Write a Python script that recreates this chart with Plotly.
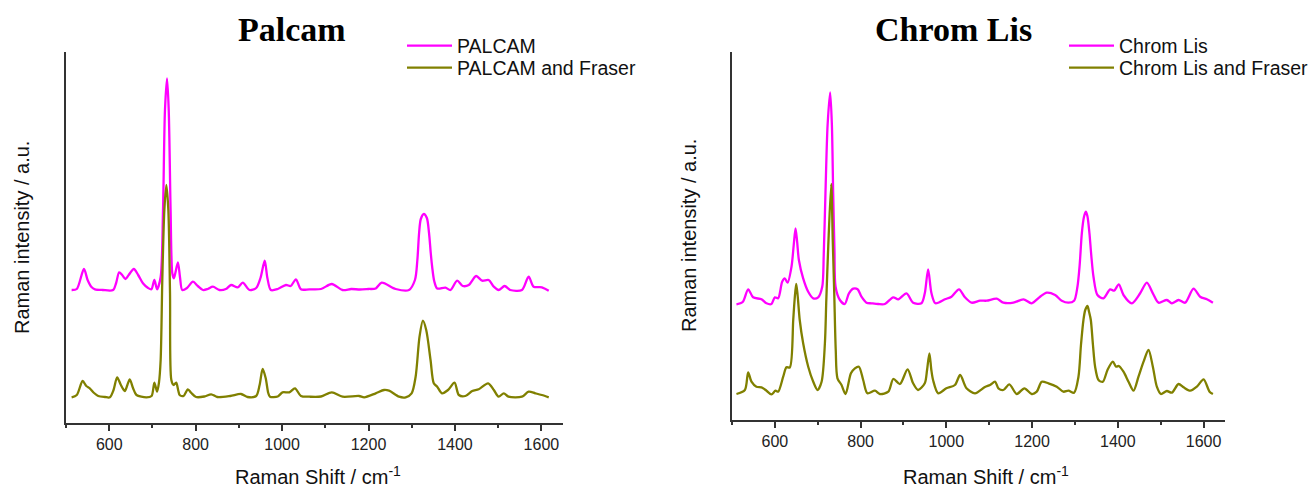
import plotly.graph_objects as go

W, H = 1311, 489

# ---------------- data ----------------
palcam_x = [513, 525, 541.5, 550, 559, 567, 585, 609, 616, 623, 630, 637.6, 645, 657, 667, 678, 690, 697.6,
            704.5, 710.7, 719, 724.5, 729, 733.8, 737.7, 742, 746, 749.5, 753, 759, 764, 769, 780, 793.7, 805,
            816.8, 828, 839.9, 855, 870, 882, 897.5, 909, 924.5, 940, 950, 959.8, 966, 974, 990, 1009, 1020,
            1032, 1043.6, 1063, 1090, 1115, 1139.8, 1160, 1180, 1200, 1216.6, 1230.5, 1262.8, 1293.6, 1307.4,
            1313, 1317, 1321, 1328, 1335, 1340, 1344, 1347.3, 1352, 1358.9, 1378, 1389.8, 1405, 1418, 1432, 1449,
            1462.8, 1478, 1489.8, 1501, 1515, 1528, 1555, 1570.5, 1582, 1601, 1617]
palcam_y = [133, 134, 154, 143, 136, 133.7, 133, 133, 140, 150.7, 148, 144, 148, 154, 148, 139.7, 135, 133.7,
            143, 133.7, 146, 213, 313, 344.7, 313, 213, 149.7, 144.7, 150, 160.7, 145, 133, 135, 141.3, 137,
            133, 134, 136.3, 133, 134, 138, 135.7, 140.3, 133, 135, 145, 162.3, 145, 133, 134, 138, 137,
            143.7, 133.7, 133.7, 134, 139, 133, 134, 133.5, 134, 134.5, 140.3, 134, 133, 143,
            163, 190, 204, 209, 205, 190, 170, 156, 142, 134.5, 135.3, 133, 142.3, 137, 138, 147,
            142.3, 143, 136.3, 133, 137, 133, 133, 146.3, 136.3, 135.7, 132.3]

palcam_fraser_x = [513, 525, 538.4, 547, 555, 565, 574.6, 590, 601.5, 610, 618.4, 627, 636, 642, 647.6, 655, 663,
                   686, 698, 704.5, 710.7, 715, 719, 723, 727.6, 732.2, 736.8, 740.7, 743.8, 749, 755, 760, 763,
                   772, 782, 790, 801, 820, 836, 850, 880, 905, 920, 940, 948, 955, 962, 968, 972, 990, 1001,
                   1016.7, 1029.8, 1043.6, 1063, 1090, 1115, 1140, 1178, 1190, 1216.6, 1236, 1247.5, 1270.6,
                   1286, 1299.7, 1309, 1318, 1325.8, 1333.5, 1343.5, 1351, 1358.9, 1370, 1384, 1399, 1409, 1424,
                   1440, 1455, 1476.7, 1490, 1501, 1513, 1524, 1555, 1570.5, 1586, 1601, 1617]
palcam_fraser_y = [25.7, 28, 42, 37, 34.7, 30, 27, 26, 25.7, 33, 45.7, 38, 32, 38, 43.7, 35, 28,
                   25.7, 27, 40.3, 31.3, 40, 63, 146.3, 213, 238, 213, 129.7, 43, 38, 40.3, 32, 28,
                   27, 33.7, 30, 26, 26.5, 28.7, 26, 27, 29, 26, 27, 38, 54, 45, 30, 26.3, 26.5, 30.7,
                   30.7, 34.7, 27, 26.3, 26.5, 30.7, 26.3, 27, 25.7, 29.7, 33, 32.3, 26.3,
                   25.7, 29.7, 46.3, 86.3, 102.3, 93, 63, 39.7, 36.3, 29.7, 33, 40.3, 28, 27,
                   32, 33.7, 39.7, 33, 26.3, 29.7, 26.3, 26.3, 31.3, 29.7, 28, 25.7]

chrom_x = [510.4, 525, 537.7, 549.3, 568.8, 580.5, 592, 600, 607.7, 617, 623, 629.6, 638.8, 644, 648.2, 652, 656,
           666, 677.8, 689.5, 701, 710.5, 714, 718, 723, 729, 733, 736, 739, 741.6, 751.7, 763, 772.8, 782.8,
           793, 802, 813.6, 825.4, 841, 856.6, 876, 887.8, 907, 922.5, 941.9, 949.7, 957.5, 965.3, 974.6,
           996.8, 1012, 1029.5, 1043.4, 1058.9, 1078.6, 1094, 1117.5, 1133, 1156.4, 1179.7, 1199, 1218.7,
           1234.2, 1253.7, 1269.2, 1284.8, 1298, 1305.8, 1311, 1316, 1321, 1325.3, 1329, 1333.8, 1338,
           1343.2, 1352.5, 1366.5, 1382, 1391.4, 1402.3, 1413.2, 1432.7, 1452, 1467.7, 1481.7, 1495, 1514.4,
           1526, 1541.6, 1557, 1576.6, 1592, 1607.8, 1621.8]
chrom_y = [115.7, 118, 130.7, 122.7, 120.7, 116.7, 116, 122.7, 121.7, 138.3, 141.7, 137.3, 153.3, 175, 191.7, 178, 160,
           141.7, 128.3, 121.7, 122.7, 133.3, 165, 226.7, 295, 327.7, 295, 226.7, 170, 133.3, 120, 116, 126.7, 131.3,
           130.7, 123.3, 117.3, 116.7, 116, 116, 122.7, 120.7, 126.7, 117.3, 116.7, 126.7, 150.7, 126.7, 116.7,
           120.7, 123.3, 130.7, 122.7, 117.3, 119.3, 119.3, 121.3, 117.3, 117.3, 120.7, 116.7, 123.3,
           127.3, 125, 119.3, 117.3, 119.3, 133.3, 155, 186.7, 203, 208.3, 204, 186.7, 165,
           143.3, 125, 121.7, 130.7, 129.3, 135.7, 125, 116.7, 126.7, 137.3, 126.7, 117.3, 120,
           116.7, 120, 117.3, 131.3, 123.3, 120.7, 117.3]

chrom_fraser_x = [510.4, 530, 537.7, 545.4, 557, 568.8, 580.5, 592, 601.5, 607.7, 619.4, 627, 635, 642.8, 646,
                  649.7, 653, 658, 666, 677.8, 689.5, 699.6, 709, 716.7, 720, 724.5, 731.5, 735, 738.5, 742,
                  746, 755.5, 764.9, 777.4, 786.7, 796, 806, 816, 833.4, 845, 864.6, 876.3, 891.8, 909.6,
                  922.5, 934, 949.7, 955, 960.5, 965, 969, 981, 1000, 1020, 1032.2, 1047, 1066.8, 1090,
                  1101.9, 1113.6, 1121.4, 1133, 1147, 1164.2, 1182, 1199, 1210.9, 1222.5, 1238, 1257.6,
                  1273, 1284.8, 1298, 1308.2, 1314, 1319.8, 1324, 1329.2, 1333, 1337, 1342, 1347, 1354.9,
                  1365, 1375.9, 1388.3, 1396, 1402.3, 1413.2, 1424.9, 1436.6, 1448.2, 1460, 1471.6, 1481.7,
                  1491, 1500.4, 1514.4, 1526, 1541.6, 1553.3, 1568.9, 1584.4, 1600, 1614, 1621.8]
chrom_fraser_y = [26, 30, 47.7, 38.3, 33.3, 32.7, 29.3, 25.7, 29.3, 28.3, 43.3, 52.7, 52.7, 100, 120,
                  136, 125, 100, 76.7, 53.3, 38.3, 30, 38.3, 76.7, 120, 173.3, 236, 180, 126.7, 70,
                  41.7, 35, 26, 46.7, 51.7, 53.3, 40, 26.7, 29.3, 26, 28.3, 41, 36, 50.7,
                  36.7, 30, 36.7, 50, 66.7, 50, 40, 26.7, 31.7, 35, 45, 31.7, 26.7, 33,
                  35, 38.3, 31.7, 30, 35.7, 26, 31.7, 26, 28.3, 38.3, 36.7, 33.3,
                  28.3, 29.3, 27.3, 43.3, 75, 100, 110, 114, 108, 100, 75, 53.3, 40,
                  38.3, 50, 58.3, 53.3, 54, 48.3, 38.3, 29.3, 43.3, 58.3, 70, 53.3,
                  33.3, 26, 29, 27.3, 36, 32.7, 29.3, 33.3, 40.7, 28.3, 26]

x_tickvals = [600, 800, 1000, 1200, 1400, 1600]
x_ticktext = ["600", "800", "1000", "1200", "1400", "1600"]
panel_titles = ["Palcam", "Chrom Lis"]
names_left = ["PALCAM", "PALCAM and Fraser"]
names_right = ["Chrom Lis", "Chrom Lis and Fraser"]

PINK = "#FF00FF"
OLIVE = "#808000"
SANS = "Liberation Sans, Arial, sans-serif"
SERIF = "Liberation Serif, Times New Roman, serif"

def px_x(p):
    return p / W

def px_y(p):
    return 1 - p / H

fig = go.Figure()
line_kw = dict(width=2.3, shape="spline", smoothing=0.8)
fig.add_trace(go.Scatter(x=palcam_x, y=palcam_y, mode="lines", name=names_left[0],
                         line=dict(color=PINK, **line_kw), xaxis="x", yaxis="y", legend="legend"))
fig.add_trace(go.Scatter(x=palcam_fraser_x, y=palcam_fraser_y, mode="lines", name=names_left[1],
                         line=dict(color=OLIVE, **line_kw), xaxis="x", yaxis="y", legend="legend2"))
fig.add_trace(go.Scatter(x=chrom_x, y=chrom_y, mode="lines", name=names_right[0],
                         line=dict(color=PINK, **line_kw), xaxis="x2", yaxis="y2", legend="legend3"))
fig.add_trace(go.Scatter(x=chrom_fraser_x, y=chrom_fraser_y, mode="lines", name=names_right[1],
                         line=dict(color=OLIVE, **line_kw), xaxis="x2", yaxis="y2", legend="legend4"))

xaxis_common = dict(
    range=[500, 1650], showline=True, linecolor="#333333", linewidth=2,
    ticks="outside", ticklen=6, tickwidth=1.5, tickcolor="#333333",
    tickvals=x_tickvals, ticktext=x_ticktext,
    tickfont=dict(family=SANS, size=16, color="#222222"),
    minor=dict(dtick=100, tick0=500, ticks="outside", ticklen=3, tickwidth=1.5, tickcolor="#333333"),
    showgrid=False, zeroline=False, fixedrange=True,
)
yaxis_common = dict(
    showline=True, linecolor="#333333", linewidth=2, ticks="", showticklabels=False,
    showgrid=False, zeroline=False, fixedrange=True,
)

def leg(xp, yp):
    return dict(x=px_x(xp), y=px_y(yp), xanchor="left", yanchor="middle",
                font=dict(family=SANS, size=19.5, color="#111111"),
                bgcolor="rgba(0,0,0,0)", itemwidth=45)

fig.update_layout(
    width=W, height=H,
    margin=dict(l=0, r=0, t=0, b=0, autoexpand=False),
    paper_bgcolor="white", plot_bgcolor="white",
    xaxis=dict(domain=[px_x(66), px_x(563)], anchor="y", **xaxis_common),
    yaxis=dict(domain=[px_y(423), px_y(52)], anchor="x", range=[0, 371], **yaxis_common),
    xaxis2=dict(domain=[px_x(732), px_x(1225)], anchor="y2", **xaxis_common),
    yaxis2=dict(domain=[px_y(420), px_y(52)], anchor="x2", range=[0, 368], **yaxis_common),
    legend=leg(402, 46),
    legend2=leg(402, 68),
    legend3=leg(1064, 46),
    legend4=leg(1064, 68),
    showlegend=True,
)

annotations = [
    dict(text="<b>" + panel_titles[0] + "</b>", x=px_x(292), y=px_y(30), xanchor="center", yanchor="middle",
         font=dict(family=SERIF, size=34, color="#000000")),
    dict(text="<b>" + panel_titles[1] + "</b>", x=px_x(953), y=px_y(30), xanchor="center", yanchor="middle",
         font=dict(family=SERIF, size=34, color="#000000")),
    dict(text="Raman Shift / cm<sup>-1</sup>", x=px_x(318), y=px_y(490), xanchor="center", yanchor="bottom",
         font=dict(family=SANS, size=20, color="#111111")),
    dict(text="Raman Shift / cm<sup>-1</sup>", x=px_x(986), y=px_y(490), xanchor="center", yanchor="bottom",
         font=dict(family=SANS, size=20, color="#111111")),
    dict(text="Raman intensity / a.u.", x=px_x(22), y=px_y(238), xanchor="center", yanchor="middle",
         textangle=-90, font=dict(family=SANS, size=20, color="#111111")),
    dict(text="Raman intensity / a.u.", x=px_x(689), y=px_y(236), xanchor="center", yanchor="middle",
         textangle=-90, font=dict(family=SANS, size=20, color="#111111")),
]
for a in annotations:
    a.update(xref="paper", yref="paper", showarrow=False)
fig.update_layout(annotations=annotations)

fig.write_html("out.html", config={"displayModeBar": False},
               post_script="document.body.style.margin='0';document.body.style.overflow='hidden';")
